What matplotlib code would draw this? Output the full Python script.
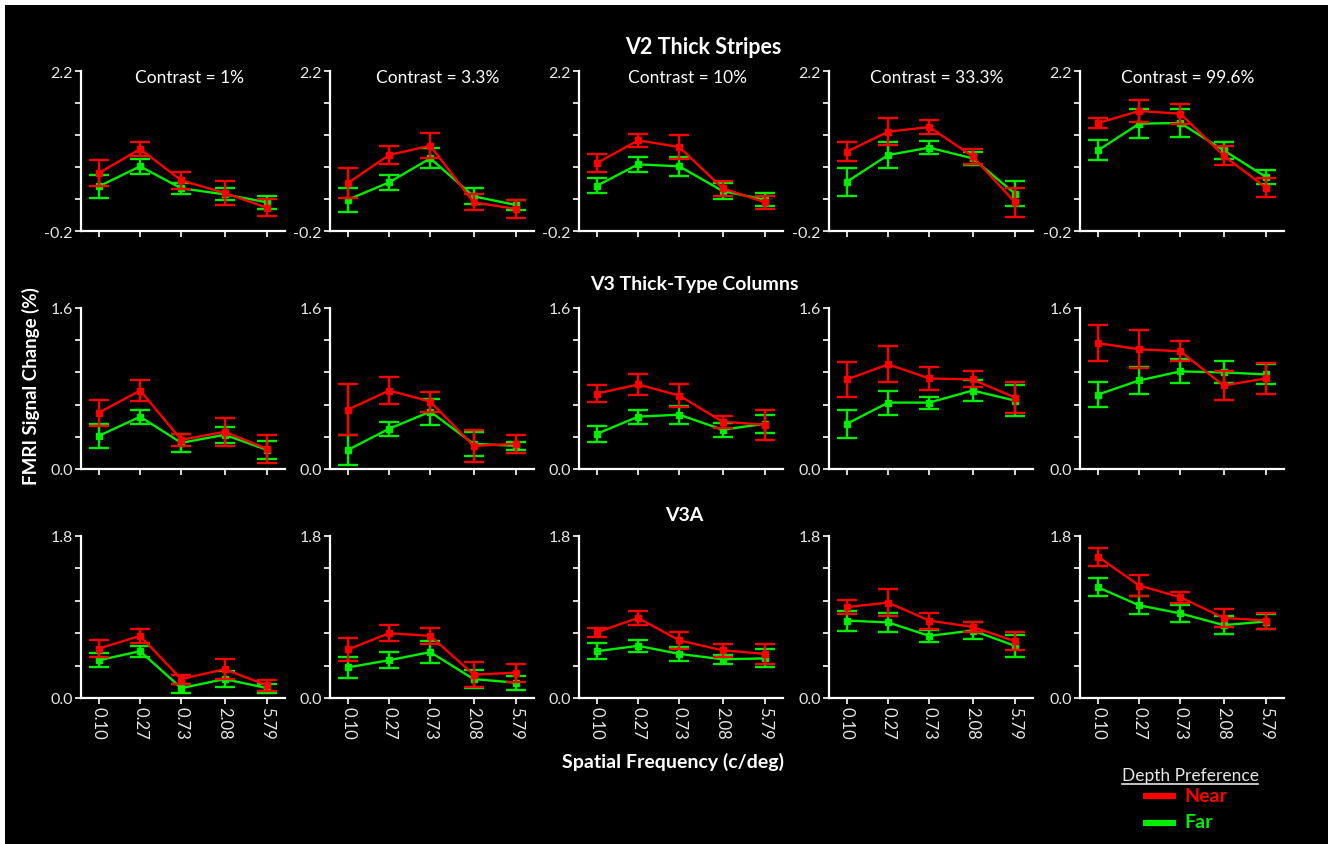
import numpy as np
import matplotlib
matplotlib.use("Agg")
import matplotlib.pyplot as plt
from matplotlib.patches import Rectangle
from matplotlib.lines import Line2D

plt.rcParams['font.family'] = ['Lato', 'DejaVu Sans']

# ---------------- data ----------------
freqs = [0.10, 0.27, 0.73, 2.08, 5.79]
freq_labels = ["0.10", "0.27", "0.73", "2.08", "5.79"]
contrasts = ["Contrast = 1%", "Contrast = 3.3%", "Contrast = 10%", "Contrast = 33.3%", "Contrast = 99.6%"]
regions = ["V2 Thick Stripes", "V3 Thick-Type Columns", "V3A"]
ylims = [(-0.2, 2.2), (0.0, 1.6), (0.0, 1.8)]
ylabels_ends = [("-0.2", "2.2"), ("0.0", "1.6"), ("0.0", "1.8")]

v2_near = [[0.67, 1.03, 0.56, 0.37, 0.15], [0.52, 0.94, 1.08, 0.23, 0.13], [0.82, 1.16, 1.06, 0.44, 0.23],
           [0.99, 1.29, 1.36, 0.92, 0.23], [1.42, 1.60, 1.56, 0.93, 0.45]]
v2_near_err = [[0.20, 0.11, 0.13, 0.18, 0.13], [0.22, 0.13, 0.19, 0.12, 0.13], [0.13, 0.10, 0.18, 0.11, 0.10],
               [0.14, 0.20, 0.10, 0.11, 0.22], [0.08, 0.17, 0.15, 0.14, 0.14]]
v2_far = [[0.47, 0.77, 0.44, 0.35, 0.23], [0.27, 0.53, 0.89, 0.32, 0.19], [0.48, 0.80, 0.77, 0.40, 0.27],
          [0.54, 0.94, 1.05, 0.89, 0.36], [1.01, 1.41, 1.42, 1.01, 0.61]]
v2_far_err = [[0.17, 0.11, 0.08, 0.09, 0.10], [0.18, 0.11, 0.15, 0.12, 0.08], [0.11, 0.11, 0.14, 0.12, 0.10],
              [0.21, 0.19, 0.10, 0.10, 0.19], [0.15, 0.22, 0.21, 0.13, 0.11]]

v3_near = [[0.56, 0.78, 0.29, 0.37, 0.20], [0.59, 0.78, 0.67, 0.23, 0.25], [0.75, 0.84, 0.73, 0.47, 0.44],
           [0.89, 1.04, 0.90, 0.89, 0.71], [1.25, 1.19, 1.17, 0.83, 0.90]]
v3_near_err = [[0.13, 0.10, 0.06, 0.14, 0.14], [0.25, 0.13, 0.10, 0.16, 0.09], [0.08, 0.10, 0.11, 0.06, 0.15],
               [0.17, 0.18, 0.11, 0.08, 0.15], [0.18, 0.19, 0.10, 0.14, 0.15]]
v3_far = [[0.33, 0.52, 0.26, 0.34, 0.19], [0.19, 0.40, 0.57, 0.25, 0.23], [0.35, 0.52, 0.54, 0.39, 0.45],
          [0.45, 0.66, 0.66, 0.78, 0.68], [0.74, 0.88, 0.97, 0.96, 0.94]]
v3_far_err = [[0.12, 0.07, 0.09, 0.08, 0.09], [0.15, 0.07, 0.13, 0.12, 0.04], [0.08, 0.07, 0.09, 0.07, 0.09],
              [0.14, 0.12, 0.06, 0.10, 0.15], [0.12, 0.13, 0.12, 0.11, 0.10]]

v3a_near = [[0.55, 0.69, 0.21, 0.32, 0.14], [0.54, 0.72, 0.69, 0.26, 0.28], [0.73, 0.89, 0.64, 0.53, 0.49],
            [1.01, 1.06, 0.86, 0.79, 0.63], [1.57, 1.25, 1.12, 0.89, 0.86]]
v3a_near_err = [[0.09, 0.08, 0.05, 0.11, 0.06], [0.13, 0.09, 0.09, 0.14, 0.10], [0.05, 0.08, 0.09, 0.07, 0.11],
                [0.08, 0.15, 0.09, 0.06, 0.10], [0.10, 0.12, 0.06, 0.10, 0.09]]
v3a_far = [[0.42, 0.52, 0.11, 0.21, 0.11], [0.34, 0.42, 0.51, 0.21, 0.17], [0.52, 0.58, 0.49, 0.43, 0.44],
           [0.86, 0.84, 0.69, 0.75, 0.58], [1.23, 1.03, 0.94, 0.81, 0.85]]
v3a_far_err = [[0.08, 0.06, 0.05, 0.09, 0.05], [0.12, 0.09, 0.12, 0.10, 0.08], [0.09, 0.07, 0.08, 0.05, 0.10],
               [0.11, 0.11, 0.07, 0.09, 0.12], [0.10, 0.10, 0.09, 0.10, 0.08]]

near_all = [v2_near, v3_near, v3a_near]
near_err_all = [v2_near_err, v3_near_err, v3a_near_err]
far_all = [v2_far, v3_far, v3a_far]
far_err_all = [v2_far_err, v3_far_err, v3a_far_err]

# ---------------- layout ----------------
W, H = 1328, 845
fig = plt.figure(figsize=(W / 100, H / 100), dpi=100, facecolor='white')
# black background with thin white border at top/left
fig.patches.append(Rectangle((5 / W, 0), 1, 1 - 6 / H, transform=fig.transFigure,
                             facecolor='black', edgecolor='none', zorder=-10))

def fx(px):
    return px / W

def fy(py):
    return 1 - py / H

col_left = [81, 330, 579, 829, 1080]
ax_w = 204
row_top = [72, 309, 537]
row_bot = [232, 470, 699]

RED = '#ff0000'
GREEN = '#00ee00'
TXT = '#e6e6e6'

lx = np.log(freqs)
pad = (lx[-1] - lx[0]) * 18.0 / 168.0
xlim = (np.exp(lx[0] - pad), np.exp(lx[-1] + pad))

for r in range(3):
    for c in range(5):
        ax = fig.add_axes([fx(col_left[c]), fy(row_bot[r]), ax_w / W, (row_bot[r] - row_top[r]) / H])
        ax.set_facecolor('none')
        ax.set_xscale('log')
        ax.set_xlim(*xlim)
        ax.set_ylim(*ylims[r])
        ax.errorbar(freqs, far_all[r][c], yerr=far_err_all[r][c], color=GREEN, lw=1.7,
                    marker='s', ms=4.2, capsize=7, capthick=1.7, elinewidth=1.7, zorder=3)
        ax.errorbar(freqs, near_all[r][c], yerr=near_err_all[r][c], color=RED, lw=1.7,
                    marker='s', ms=4.2, capsize=7, capthick=1.7, elinewidth=1.7, zorder=4)
        for s in ['top', 'right']:
            ax.spines[s].set_visible(False)
        for s in ['left', 'bottom']:
            ax.spines[s].set_color('white')
            ax.spines[s].set_linewidth(1.6)
        ax.xaxis.set_minor_locator(matplotlib.ticker.NullLocator())
        ax.set_xticks(freqs)
        if r == 2:
            ax.set_xticklabels(freq_labels, rotation=-90, fontsize=12, color=TXT)
        else:
            ax.set_xticklabels([])
        yt = np.linspace(ylims[r][0], ylims[r][1], 6)
        ax.set_yticks(yt)
        ax.set_yticklabels([ylabels_ends[r][0], "", "", "", "", ylabels_ends[r][1]], fontsize=11.5, color=TXT)
        ax.tick_params(axis='both', colors='white', length=4, width=1.2, labelcolor=TXT, pad=2)
        if r == 0:
            ax.text(0.53, 0.96, contrasts[c], transform=ax.transAxes, ha='center', va='center',
                    fontsize=12.5, color='white')

# row titles
fig.text(fx(703), fy(48), regions[0], ha='center', va='center', fontsize=15.5, fontweight='bold', color='white')
fig.text(fx(694), fy(285), regions[1], ha='center', va='center', fontsize=14, fontweight='bold', color='white')
fig.text(fx(684), fy(516), regions[2], ha='center', va='center', fontsize=14, fontweight='bold', color='white')

# axis labels
fig.text(fx(31), fy(386), "FMRI Signal Change (%)", rotation=90, ha='center', va='center',
         fontsize=13.5, fontweight='bold', color='white')
fig.text(fx(673), fy(762), "Spatial Frequency (c/deg)", ha='center', va='center',
         fontsize=14, fontweight='bold', color='white')

# legend
fig.text(fx(1190), fy(776), "Depth Preference", ha='center', va='center', fontsize=12.5, color=TXT)
fig.lines.append(Line2D([fx(1122), fx(1258)], [fy(785), fy(785)], transform=fig.transFigure,
                        color=TXT, lw=1.2))
fig.lines.append(Line2D([fx(1143), fx(1176)], [fy(797), fy(797)], transform=fig.transFigure,
                        color=RED, lw=4.5, solid_capstyle='butt'))
fig.lines.append(Line2D([fx(1143), fx(1176)], [fy(824), fy(824)], transform=fig.transFigure,
                        color=GREEN, lw=4.5, solid_capstyle='butt'))
fig.text(fx(1184), fy(797), "Near", ha='left', va='center', fontsize=14, fontweight='bold', color=RED)
fig.text(fx(1184), fy(823), "Far", ha='left', va='center', fontsize=14, fontweight='bold', color=GREEN)

fig.savefig("out.png", dpi=100, facecolor=fig.get_facecolor())
